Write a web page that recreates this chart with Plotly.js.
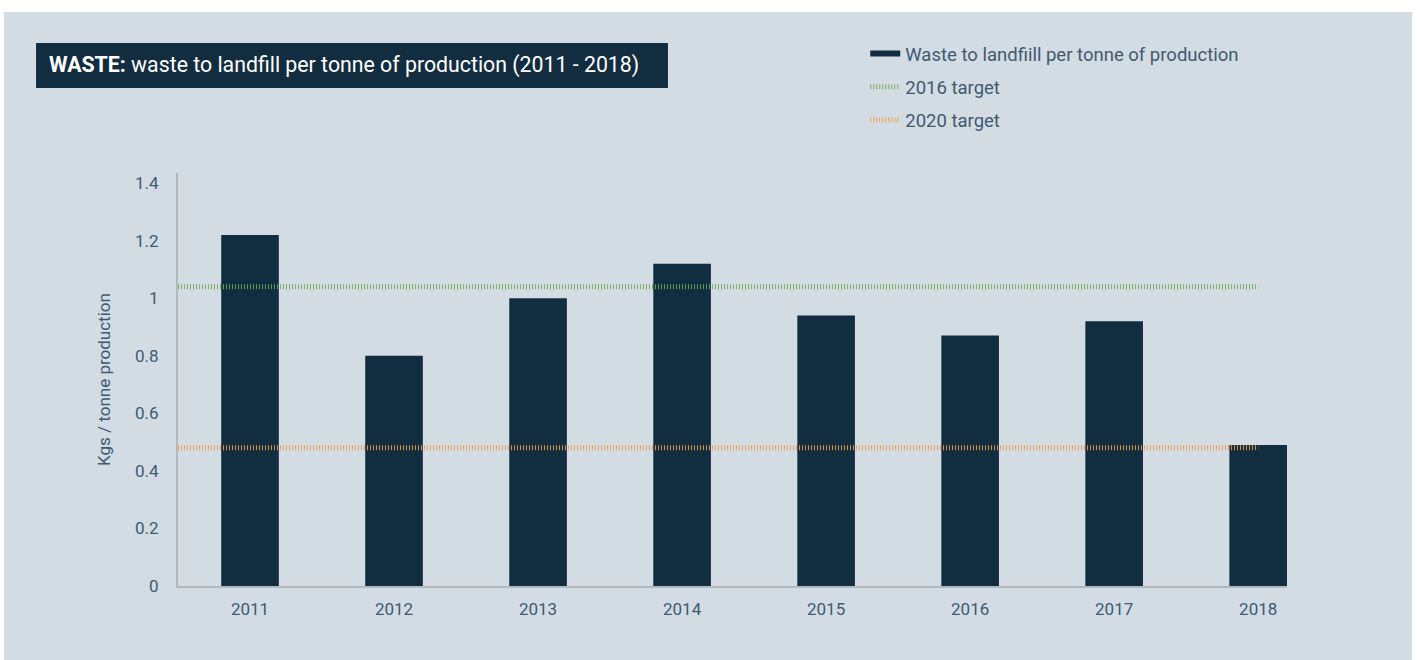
<!DOCTYPE html>
<html>
<head>
<meta charset="utf-8">
<script src="https://cdn.plot.ly/plotly-3.0.1.min.js"></script>
<style>
  html, body { margin: 0; padding: 0; background: #ffffff; }
  #chart { position: absolute; left: 4px; top: 12px; width: 1408px; height: 648px; }
</style>
</head>
<body>
<div id="chart"></div>
<script>
// ---- data ----
const years = ["2011", "2012", "2013", "2014", "2015", "2016", "2017", "2018"];
const wasteValues = [1.22, 0.80, 1.00, 1.12, 0.94, 0.87, 0.92, 0.49];
const target2016 = 1.04;
const target2020 = 0.48;
const yTickVals = [0, 0.2, 0.4, 0.6, 0.8, 1, 1.2, 1.4];
const yTickText = ["0", "0.2", "0.4", "0.6", "0.8", "1", "1.2", "1.4"];
const seriesNames = ["Waste to landfiill per tonne of production", "2016 target", "2020 target"];

const idx = years.map((_, i) => i);
const lineX = [-0.5, years.length - 1];

const dark = "#132d40";
const textCol = "#3e5a72";

const traces = [
  {
    type: "bar", x: idx, y: wasteValues, name: seriesNames[0],
    marker: { color: dark }, width: 0.4, showlegend: false, hoverinfo: "y"
  },
  {
    // legend key for the bar series (drawn as a line like the reference)
    type: "scatter", mode: "lines", x: [null], y: [null], name: seriesNames[0],
    line: { color: dark, width: 6 }, legendgroup: "a"
  },
  {
    type: "scatter", mode: "lines", x: lineX, y: [target2016, target2016], name: seriesNames[1],
    line: { color: "#6fa84e", width: 5, dash: "1px,2px" }, opacity: 0.9, legendgroup: "b"
  },
  {
    type: "scatter", mode: "lines", x: lineX, y: [target2020, target2020], name: seriesNames[2],
    line: { color: "#f39a3e", width: 5, dash: "1px,2px" }, opacity: 0.9, legendgroup: "c"
  }
];

const layout = {
  width: 1408, height: 648,
  paper_bgcolor: "#d3dce3", plot_bgcolor: "#d3dce3",
  margin: { l: 174, r: 125, t: 161, b: 74 },
  font: { family: "Roboto, 'Open Sans', sans-serif", color: textCol, size: 17 },
  showlegend: true,
  legend: {
    x: 0.6197, y: 1.334, xanchor: "left", yanchor: "top",
    bgcolor: "rgba(0,0,0,0)", traceorder: "grouped", tracegroupgap: 6,
    itemwidth: 30,
    font: { size: 18.5, color: textCol }
  },
  xaxis: {
    type: "linear", range: [-0.5, 7.2],
    tickvals: idx, ticktext: years,
    showgrid: false, zeroline: false,
    showline: true, linecolor: "#b3b8bd", linewidth: 2,
    ticks: "outside", ticklen: 7, tickcolor: "rgba(0,0,0,0)",
    tickfont: { size: 17, color: textCol }
  },
  yaxis: {
    range: [0, 1.435],
    tickvals: yTickVals, ticktext: yTickText,
    showgrid: false, zeroline: false,
    showline: true, linecolor: "#b3b8bd", linewidth: 2,
    ticks: "outside", ticklen: 14, tickcolor: "rgba(0,0,0,0)",
    tickfont: { size: 17, color: textCol },
    title: { text: "Kgs / tonne production", font: { size: 17, color: textCol }, standoff: 20 }
  },
  shapes: [
    {
      type: "rect", xref: "paper", yref: "paper",
      x0: -0.1280, x1: 0.4418, y0: 1.2058, y1: 1.3148,
      fillcolor: dark, line: { width: 0 }, layer: "above"
    }
  ],
  annotations: [
    {
      xref: "paper", yref: "paper", x: -0.1181, y: 1.2603,
      xanchor: "left", yanchor: "middle", showarrow: false,
      text: "<b>WASTE:</b> waste to landfill per tonne of production (2011 - 2018)",
      font: { size: 21.3, color: "#ffffff", family: "Roboto, sans-serif" }
    }
  ]
};

Plotly.newPlot("chart", traces, layout, { displayModeBar: false, staticPlot: true });
</script>
</body>
</html>
